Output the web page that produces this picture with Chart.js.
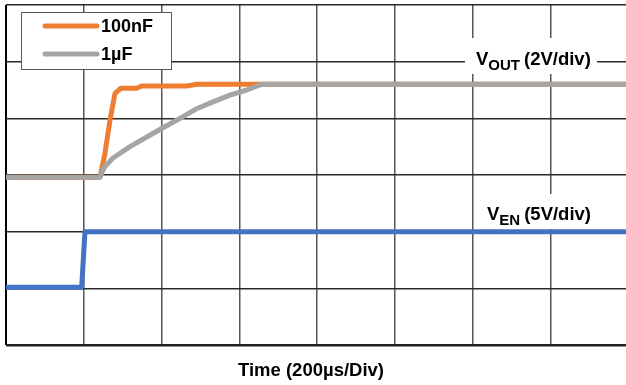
<!DOCTYPE html>
<html>
<head>
<meta charset="utf-8">
<title>VOUT / VEN start-up</title>
<script src="https://cdn.jsdelivr.net/npm/chart.js"></script>
<style>
  html, body { margin: 0; padding: 0; background: #fff; }
  canvas { display: block; }
</style>
</head>
<body>
<canvas id="scope" width="626" height="385"></canvas>
<script>
// time in divisions (200us/div), voltage in divisions from the bottom of the screen
const time100n = [0, 1.208, 1.273, 1.337, 1.401, 1.474, 1.68, 1.744, 2.323, 2.455, 8];
const vout100n = [2.96, 2.96, 3.39, 3.97, 4.44, 4.53, 4.53, 4.57, 4.57, 4.60, 4.60];

const time1u = [0, 1.208, 1.24, 1.273, 1.375, 1.594, 1.809, 2.001, 2.237, 2.451, 2.661, 2.879, 3.094, 3.265, 3.3, 8];
const vout1u = [2.96, 2.96, 3.07, 3.15, 3.30, 3.50, 3.67, 3.82, 4.00, 4.17, 4.29, 4.41, 4.50, 4.59, 4.60, 4.60];

const timeEn = [0, 0.973, 1.015, 8];
const ven = [1.02, 1.02, 2.0, 2.0];

const seriesNames = ['100nF', '1µF'];
const axisTitle = 'Time (200µs/Div)';

const FONT = '"Liberation Sans", Arial, sans-serif';

function pts(xs, ys) {
    return xs.map((x, i) => ({ x: x, y: ys[i] }));
}

function subLabel(ctx, x, y, main, sub, rest) {
    ctx.fillStyle = '#000';
    ctx.textBaseline = 'alphabetic';
    ctx.textAlign = 'left';
    ctx.font = 'bold 18.5px ' + FONT;
    ctx.fillText(main, x, y);
    x += ctx.measureText(main).width;
    ctx.font = 'bold 15px ' + FONT;
    ctx.fillText(sub, x, y + 5);
    x += ctx.measureText(sub).width + 4;
    ctx.font = 'bold 18.5px ' + FONT;
    ctx.fillText(rest, x, y);
}

// white boxes + trace labels, drawn under the traces
const labelPlugin = {
    id: 'labels',
    beforeDatasetsDraw(chart) {
        const ctx = chart.ctx;
        ctx.save();
        ctx.fillStyle = '#fff';
        ctx.fillRect(465, 38, 132, 36);
        ctx.fillRect(478, 194, 120, 35);
        subLabel(ctx, 476, 65, 'V', 'OUT', '(2V/div)');
        subLabel(ctx, 487, 220, 'V', 'EN', '(5V/div)');
        ctx.restore();
    },
    afterDraw(chart) {
        const ctx = chart.ctx;
        ctx.save();
        // legend box
        ctx.fillStyle = '#fff';
        ctx.fillRect(21, 12, 150, 57);
        ctx.strokeStyle = '#595959';
        ctx.lineWidth = 1;
        ctx.strokeRect(21.5, 12.5, 150, 57);
        const cols = ['#ED7D31', '#A5A5A5'];
        const rows = [26, 54];
        ctx.lineCap = 'round';
        ctx.lineWidth = 5;
        ctx.font = 'bold 18px ' + FONT;
        ctx.textBaseline = 'middle';
        ctx.textAlign = 'left';
        seriesNames.forEach((name, i) => {
            ctx.strokeStyle = cols[i];
            ctx.beginPath();
            ctx.moveTo(45, rows[i]);
            ctx.lineTo(97, rows[i]);
            ctx.stroke();
            ctx.fillStyle = '#000';
            ctx.fillText(name, 101, rows[i] + 1);
        });
        // x axis title
        ctx.textAlign = 'center';
        ctx.textBaseline = 'alphabetic';
        ctx.font = 'bold 18.5px ' + FONT;
        ctx.fillText(axisTitle, 311, 376);
        ctx.restore();
    }
};

const ctx = document.getElementById('scope').getContext('2d');
new Chart(ctx, {
    type: 'line',
    data: {
        datasets: [
            {
                label: seriesNames[1],
                data: pts(time1u, vout1u),
                borderColor: '#A5A5A5',
                borderWidth: 5,
                order: 0
            },
            {
                label: seriesNames[0],
                data: pts(time100n, vout100n),
                borderColor: '#ED7D31',
                borderWidth: 5,
                order: 1
            },
            {
                label: 'VEN',
                data: pts(timeEn, ven),
                borderColor: '#4472C4',
                borderWidth: 5,
                order: 2
            }
        ]
    },
    options: {
        responsive: false,
        animation: false,
        events: [],
        parsing: false,
        elements: {
            point: { radius: 0 },
            line: { tension: 0, borderJoinStyle: 'round', fill: false }
        },
        layout: { padding: { left: 6, top: 5, right: 0, bottom: 40 } },
        plugins: {
            legend: { display: false },
            tooltip: { enabled: false }
        },
        scales: {
            x: {
                type: 'linear',
                min: 0,
                max: 7.97,
                border: { display: false },
                grid: {
                    drawTicks: false,
                    color: c => c.tick.value === 0 ? '#000' : '#555',
                    lineWidth: c => c.tick.value === 0 ? 2 : 1.5
                },
                ticks: { display: false, stepSize: 1, includeBounds: false }
            },
            y: {
                type: 'linear',
                min: 0,
                max: 6,
                border: { display: false },
                grid: {
                    drawTicks: false,
                    color: c => c.tick.value === 0 ? '#222' : '#2a2a2a',
                    lineWidth: c => c.tick.value === 0 ? 2.5 : 1.5
                },
                ticks: { display: false, stepSize: 1 }
            }
        }
    },
    plugins: [labelPlugin]
});
</script>
</body>
</html>
